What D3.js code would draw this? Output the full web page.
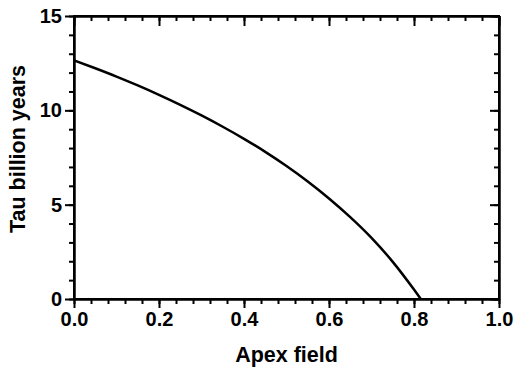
<!DOCTYPE html>
<html>
<head>
<meta charset="utf-8">
<script src="https://cdn.jsdelivr.net/npm/d3@7"></script>
<style>
  html, body { margin: 0; padding: 0; background: #fff; }
  svg { display: block; }
  .axis path, .axis line { stroke: #000; stroke-width: 2px; }
  .axis text { font-family: "Liberation Sans", Arial, sans-serif; font-weight: bold; font-size: 20px; fill: #000; }
  .title { font-family: "Liberation Sans", Arial, sans-serif; font-weight: bold; font-size: 21.5px; fill: #000; }
</style>
</head>
<body>
<svg id="chart" width="514" height="370"></svg>
<script>
// Apex field vs. age curve
const apexField = [0, 0.05, 0.10, 0.15, 0.20, 0.25, 0.30, 0.35, 0.40, 0.45, 0.50, 0.55, 0.60, 0.65, 0.70, 0.75, 0.80, 0.816];
const tauGyr    = [12.65, 12.23, 11.79, 11.32, 10.82, 10.29, 9.73, 9.13, 8.49, 7.80, 7.05, 6.23, 5.33, 4.34, 3.24, 1.97, 0.50, 0];

const xMajor = [0, 0.2, 0.4, 0.6, 0.8, 1.0];
const xMinor = d3.range(0, 1.0001, 0.04);
const yMajor = [0, 5, 10, 15];
const yMinor = d3.range(0, 15.0001, 1);

const xTitle = "Apex field";
const yTitle = "Tau billion years";

const svg = d3.select("#chart");
const margin = { left: 74, right: 15, top: 16, bottom: 71 };
const W = 514, H = 370;
const x0 = margin.left, x1 = W - margin.right;
const y0 = margin.top, y1 = H - margin.bottom;

const x = d3.scaleLinear().domain([0, 1]).range([x0, x1]);
const y = d3.scaleLinear().domain([0, 15]).range([y1, y0]);

// minor ticks (drawn first, no labels)
svg.append("g").attr("class", "axis").attr("transform", `translate(0,${y1})`)
  .call(d3.axisBottom(x).tickValues(xMinor).tickSize(5).tickSizeOuter(0).tickFormat(""));
svg.append("g").attr("class", "axis").attr("transform", `translate(0,${y0})`)
  .call(d3.axisTop(x).tickValues(xMinor).tickSize(-5).tickSizeOuter(0).tickFormat(""));
svg.append("g").attr("class", "axis").attr("transform", `translate(${x0},0)`)
  .call(d3.axisLeft(y).tickValues(yMinor).tickSize(5).tickSizeOuter(0).tickFormat(""));
svg.append("g").attr("class", "axis").attr("transform", `translate(${x1},0)`)
  .call(d3.axisRight(y).tickValues(yMinor).tickSize(-5).tickSizeOuter(0).tickFormat(""));

// major ticks
svg.append("g").attr("class", "axis").attr("transform", `translate(0,${y1})`)
  .call(d3.axisBottom(x).tickValues(xMajor).tickSize(9).tickSizeOuter(0).tickPadding(4).tickFormat(d3.format(".1f")));
svg.append("g").attr("class", "axis").attr("transform", `translate(0,${y0})`)
  .call(d3.axisTop(x).tickValues(xMajor).tickSize(-10).tickSizeOuter(0).tickFormat(""));
svg.append("g").attr("class", "axis").attr("transform", `translate(${x0},0)`)
  .call(d3.axisLeft(y).tickValues(yMajor).tickSize(9).tickSizeOuter(0).tickPadding(3).tickFormat(d3.format("d")));
svg.append("g").attr("class", "axis").attr("transform", `translate(${x1},0)`)
  .call(d3.axisRight(y).tickValues(yMajor).tickSize(-9).tickSizeOuter(0).tickFormat(""));

// frame
svg.append("rect")
  .attr("x", x0).attr("y", y0).attr("width", x1 - x0).attr("height", y1 - y0)
  .attr("fill", "none").attr("stroke", "#000").attr("stroke-width", 2);

// curve
const pts = apexField.map((a, i) => [a, tauGyr[i]]);
svg.append("path")
  .datum(pts)
  .attr("fill", "none")
  .attr("stroke", "#000")
  .attr("stroke-width", 2.5)
  .attr("d", d3.line().x(d => x(d[0])).y(d => y(d[1])).curve(d3.curveMonotoneX));

// titles
svg.append("text").attr("class", "title")
  .attr("x", (x0 + x1) / 2).attr("y", 362)
  .attr("text-anchor", "middle").text(xTitle);
svg.append("text").attr("class", "title")
  .attr("transform", `translate(25,149) rotate(-90)`)
  .attr("text-anchor", "middle").text(yTitle);
</script>
</body>
</html>
